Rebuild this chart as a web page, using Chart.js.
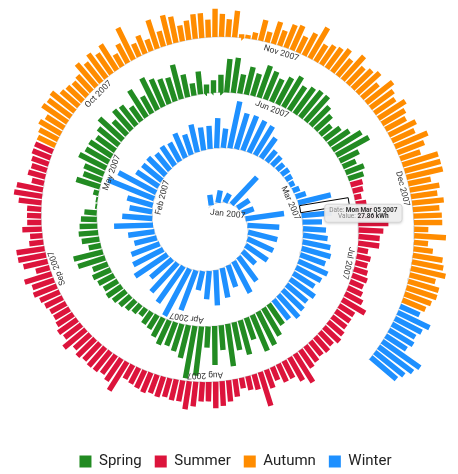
<!DOCTYPE html>
<html>
<head>
<meta charset="utf-8">
<script src="https://cdn.jsdelivr.net/npm/chart.js@4.4.0/dist/chart.umd.min.js"></script>
<style>
  html, body { margin: 0; padding: 0; background: #fff; }
  #wrap { width: 458px; height: 474px; }
</style>
</head>
<body>
<div id="wrap"><canvas id="spiralChart"></canvas></div>
<script>
// daily electricity use in 2007 (kWh), one array per month
const jan = [6, 7, 5.5, 21, 8, 7, 22, 18, 17, 16, 15, 10, 17, 20, 13, 17, 20, 16, 11, 24, 30, 25, 22, 16, 22, 19, 17, 13, 15, 22, 17];
const feb = [13, 15, 28, 24, 15, 14, 14, 12, 13, 12, 15, 12, 16, 13, 13, 17, 11, 27, 21, 21, 20, 19, 14, 8, 7, 5, 5, 4];
const mar = [3, 4, 6, 19, 27.86, 17, 11, 13, 14, 16, 17, 15, 18, 16, 14, 17, 15, 16, 17, 14, 14, 18, 21, 22, 13, 20, 16, 24, 14, 22, 12];
const apr = [28, 30, 19, 16, 14, 15, 12, 9, 8, 5, 6, 7, 8, 9, 10, 9, 10, 11, 9, 16, 17, 7, 10, 11, 10, 9, 7, 1, 1, 3];
const may = [14, 11, 12, 17, 15, 15, 13, 15, 18, 11, 15, 14, 10, 18, 11, 20, 17, 15, 14, 20, 13, 7, 13, 5, 7, 10, 19, 20, 11, 16, 13];
const jun = [19, 17, 14, 17, 20, 16, 18, 19, 19, 15, 12, 8, 11, 14, 19, 21, 12, 8, 11, 9, 7, 6, 4, 6, 9, 12, 17, 14, 12, 12];
const jul = [6, 8, 7, 8, 9, 8, 9, 11, 15, 10, 10, 10, 11, 12, 10, 11, 10, 11, 12, 19, 15, 11, 11, 8, 11, 20, 9, 8, 6, 10, 12];
const aug = [14, 15, 11, 11, 14, 16, 12, 12, 11, 12, 11, 12, 11, 10, 9, 19, 15, 13, 14, 14, 13, 14, 12, 16, 12, 13, 11, 10, 10, 11, 12];
const sep = [14, 13, 16, 8, 14, 16, 16, 8, 7, 11, 8, 8, 8, 13, 16, 15, 7, 10, 9, 10, 11, 11, 11, 12, 14, 12, 17, 16, 17, 13];
const oct = [12, 11, 12, 17, 14, 17, 14, 17, 8, 12, 20, 8, 11, 7, 17, 9, 17, 15, 9, 11, 14, 14, 10, 16, 13, 10, 15, 2, 2, 4, 12];
const nov = [6, 13, 9, 14, 15, 10, 14, 20, 11, 13, 14, 16, 12, 18, 13, 15, 17, 12, 19, 16, 14, 18, 15, 13, 17, 14, 20, 16, 12, 21];
const dec = [21, 21, 13, 17, 15, 18, 15, 16, 16, 8, 18, 8, 11, 17, 18, 20, 15, 18, 18, 16, 14, 12, 20, 17, 15, 16, 14, 26, 24, 21, 19];

const monthLabels = ['Jan 2007', 'Feb 2007', 'Mar 2007', 'Apr 2007', 'May 2007', 'Jun 2007',
                     'Jul 2007', 'Aug 2007', 'Sep 2007', 'Oct 2007', 'Nov 2007', 'Dec 2007'];
const seasonNames = ['Spring', 'Summer', 'Autumn', 'Winter'];
const seasonStarts = ['2007-03-21', '2007-06-21', '2007-09-23', '2007-12-22'];
const seasonColors = ['#228b22', '#dc143c', '#ff8c00', '#1e90ff'];
const hoveredDay = '2007-03-05';

// spiral geometry, in pixels
const CENTER_X = 215, CENTER_Y = 222;
const R_START = 16.5, TURN_GAP = 56, BAR_STEP = 6.6, BAR_WIDTH = 5.4;
const START_ANGLE = -0.33, PX_PER_KWH = 1.78;
const K = TURN_GAP / (2 * Math.PI);

const months = [jan, feb, mar, apr, may, jun, jul, aug, sep, oct, nov, dec];
const days = [];
months.forEach((vals, m) => vals.forEach((v, i) => days.push({ date: new Date(2007, m, i + 1), value: v })));

function toDate(str) {
    const p = str.split('-').map(Number);
    return new Date(p[0], p[1] - 1, p[2]);
}

function seasonOf(date) {
    let idx = 3;
    seasonStarts.forEach((s, k) => { if (date >= toDate(s)) idx = k; });
    return idx;
}

// angle/radius of the spiral after an arc length s
function spiralAt(s) {
    const u = (-R_START + Math.sqrt(R_START * R_START + 2 * K * s)) / K;
    return { a: START_ANGLE + u, r: R_START + K * u };
}

function pt(a, r) {
    return { x: r * Math.sin(a), y: r * Math.cos(a) };
}

const barData = seasonNames.map(() => []);
days.forEach((d, i) => {
    const sp = spiralAt((i + 0.5) * BAR_STEP);
    barData[seasonOf(d.date)].push(pt(sp.a, sp.r), pt(sp.a, sp.r + d.value * PX_PER_KWH), { x: 0, y: null });
});

const baseline = [];
for (let i = 0; i <= days.length * 2; i++) {
    const sp = spiralAt(i * BAR_STEP / 2);
    baseline.push(pt(sp.a, sp.r));
}

const spiralDecor = {
    id: 'spiralDecor',
    afterDatasetsDraw(chart) {
        const { ctx, scales: { x, y } } = chart;
        const px = p => ({ x: x.getPixelForValue(p.x), y: y.getPixelForValue(p.y) });

        // month labels along the spiral
        ctx.save();
        ctx.font = '8.5px Roboto';
        ctx.fillStyle = '#333';
        ctx.textAlign = 'left';
        ctx.textBaseline = 'top';
        monthLabels.forEach((label, m) => {
            const first = days.findIndex(d => d.date.getMonth() === m);
            const sp = spiralAt(first * BAR_STEP + 2);
            const rot = spiralAt(first * BAR_STEP + 8).a;
            const p = px(pt(sp.a, sp.r - 2));
            ctx.save();
            ctx.translate(p.x, p.y);
            ctx.rotate(rot);
            ctx.fillText(label, 0, 0);
            ctx.restore();
        });
        ctx.restore();

        // hovered bar
        const h = days.findIndex(d => d.date.getTime() === toDate(hoveredDay).getTime());
        const day = days[h];
        const sp = spiralAt((h + 0.5) * BAR_STEP);
        const hw = 3.6;
        const tx = Math.cos(sp.a), ty = -Math.sin(sp.a);
        const b = pt(sp.a, sp.r), t = pt(sp.a, sp.r + day.value * PX_PER_KWH);
        const corners = [
            { x: b.x + tx * hw, y: b.y + ty * hw }, { x: t.x + tx * hw, y: t.y + ty * hw },
            { x: t.x - tx * hw, y: t.y - ty * hw }, { x: b.x - tx * hw, y: b.y - ty * hw }
        ].map(px);
        ctx.save();
        ctx.beginPath();
        corners.forEach((c, i) => i ? ctx.lineTo(c.x, c.y) : ctx.moveTo(c.x, c.y));
        ctx.closePath();
        ctx.fillStyle = '#fff';
        ctx.fill();
        ctx.strokeStyle = '#000';
        ctx.lineWidth = 1;
        ctx.stroke();
        ctx.restore();

        // tooltip
        const tip = px(t);
        const line1 = ['Date: ', day.date.toDateString()];
        const line2 = ['Value: ', day.value.toFixed(2) + ' kWh'];
        ctx.save();
        const reg = '6.5px Roboto', bold = 'bold 6.5px Roboto';
        const w = l => { ctx.font = reg; const a = ctx.measureText(l[0]).width; ctx.font = bold; return a + ctx.measureText(l[1]).width; };
        const boxW = Math.max(w(line1), w(line2)) + 9, boxH = 18;
        const bx = tip.x - 24, by = tip.y + 3;
        ctx.shadowColor = 'rgba(0,0,0,0.25)';
        ctx.shadowBlur = 3;
        ctx.shadowOffsetY = 1;
        ctx.fillStyle = 'rgba(240,240,240,0.95)';
        ctx.beginPath();
        ctx.roundRect(bx, by, boxW, boxH, 3);
        ctx.fill();
        ctx.shadowColor = 'transparent';
        ctx.strokeStyle = '#d6d6d6';
        ctx.lineWidth = 1;
        ctx.stroke();
        ctx.textBaseline = 'middle';
        ctx.textAlign = 'left';
        [line1, line2].forEach((l, i) => {
            let cxp = bx + (boxW - w(l)) / 2;
            const cy = by + 6 + i * 6.5;
            ctx.font = reg; ctx.fillStyle = '#888';
            ctx.fillText(l[0], cxp, cy);
            cxp += ctx.measureText(l[0]).width;
            ctx.font = bold; ctx.fillStyle = '#333';
            ctx.fillText(l[1], cxp, cy);
        });
        ctx.restore();
    }
};

const datasets = seasonNames.map((name, k) => ({
    label: name,
    data: barData[k],
    borderColor: seasonColors[k],
    backgroundColor: seasonColors[k],
    borderWidth: BAR_WIDTH,
    borderCapStyle: 'butt',
    borderJoinStyle: 'bevel',
    pointRadius: 0,
    pointHoverRadius: 0,
    spanGaps: false,
    order: 1
}));
datasets.push({
    label: 'spiral',
    data: baseline,
    borderColor: '#d4d4d4',
    borderWidth: 1,
    pointRadius: 0,
    order: 5
});

const ctx = document.getElementById('spiralChart').getContext('2d');
const chart = new Chart(ctx, {
    type: 'line',
    data: { datasets: datasets },
    options: {
        responsive: true,
        maintainAspectRatio: false,
        animation: false,
        events: [],
        layout: { padding: { left: 13, bottom: -5 } },
        scales: {
            x: { type: 'linear', display: false, min: -202, max: 243 },
            y: { type: 'linear', display: false, min: -215, max: 222 }
        },
        plugins: {
            tooltip: { enabled: false },
            legend: {
                position: 'bottom',
                labels: {
                    boxWidth: 12,
                    boxHeight: 12,
                    padding: 13,
                    color: '#222',
                    font: { family: 'Roboto', size: 15 },
                    generateLabels: c => Chart.defaults.plugins.legend.labels.generateLabels(c)
                        .filter(l => l.datasetIndex < 4)
                        .map(l => Object.assign(l, { lineWidth: 0 }))
                }
            }
        }
    },
    plugins: [spiralDecor]
});

// keep 1 data unit = 1 pixel, centred on the spiral centre
const area = chart.chartArea;
chart.options.scales.x.min = area.left - CENTER_X;
chart.options.scales.x.max = area.right - CENTER_X;
chart.options.scales.y.min = CENTER_Y - area.bottom;
chart.options.scales.y.max = CENTER_Y - area.top;
chart.update();
</script>
</body>
</html>
